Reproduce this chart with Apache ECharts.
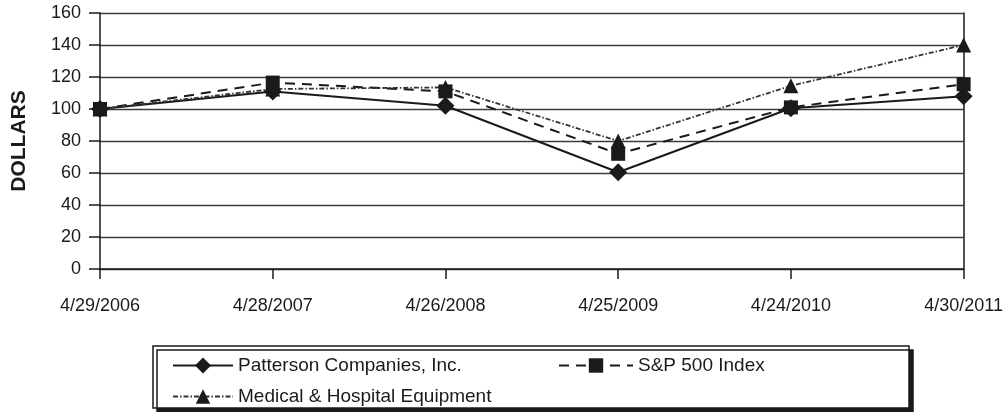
<!DOCTYPE html>
<html>
<head>
<meta charset="utf-8">
<script src="https://cdn.jsdelivr.net/npm/echarts@6/dist/echarts.min.js"></script>
<style>
html, body { margin: 0; padding: 0; background: #fff; }
#chart { width: 1006px; height: 412px; }
</style>
</head>
<body>
<div id="chart"></div>
<script>
var dates = ['4/29/2006', '4/28/2007', '4/26/2008', '4/25/2009', '4/24/2010', '4/30/2011'];
var patterson = [100, 111, 102, 60.5, 100.5, 108];
var sp500 = [100, 116.5, 111, 72, 101, 115.5];
var medical = [100, 112.5, 113.5, 80, 114.5, 140];

var font = '"Liberation Sans", Arial, sans-serif';
var ink = '#1a1a1a';

echarts.init(document.getElementById('chart')).setOption({
    animation: false,
    textStyle: { fontFamily: font, color: ink },
    grid: { left: 100, right: 41, top: 13, bottom: 143 },
    graphic: [{
        type: 'rect',
        z: 0,
        shape: { x: 153, y: 346, width: 756, height: 62 },
        style: {
            fill: '#fff', stroke: ink, lineWidth: 1.5,
            shadowColor: ink, shadowOffsetX: 4, shadowOffsetY: 4, shadowBlur: 0
        }
    }],
    legend: [{
        data: ['Patterson Companies, Inc.'],
        left: 167, top: 351,
        itemWidth: 60, itemHeight: 20,
        textStyle: { fontSize: 19, fontFamily: font, color: ink }
    }, {
        data: ['S&P 500 Index'],
        left: 553, top: 351,
        itemWidth: 74, itemHeight: 18,
        textStyle: { fontSize: 19, fontFamily: font, color: ink }
    }, {
        data: ['Medical & Hospital Equipment'],
        left: 167, top: 382,
        itemWidth: 60, itemHeight: 18,
        textStyle: { fontSize: 19, fontFamily: font, color: ink }
    }],
    xAxis: {
        type: 'category',
        data: dates,
        boundaryGap: false,
        axisLine: { lineStyle: { color: ink, width: 1.5 } },
        axisTick: { show: true, length: 10, lineStyle: { color: ink, width: 1.5 } },
        axisLabel: { fontSize: 18, color: ink, margin: 28, fontFamily: font }
    },
    yAxis: [{
        type: 'value',
        min: 0, max: 160, interval: 20,
        name: 'DOLLARS',
        nameLocation: 'middle',
        nameRotate: 90,
        nameGap: 70,
        nameTextStyle: { fontSize: 21, fontWeight: 'bold', color: ink, fontFamily: font },
        axisLine: { show: true, lineStyle: { color: ink, width: 1.5 } },
        axisTick: { show: true, length: 11, lineStyle: { color: ink, width: 1.5 } },
        axisLabel: { fontSize: 18, color: ink, margin: 19, fontFamily: font },
        splitLine: { lineStyle: { color: '#3c3c3c', width: 1.4 } }
    }, {
        type: 'value',
        position: 'right',
        min: 0, max: 160, interval: 20,
        axisLine: { show: true, lineStyle: { color: ink, width: 1.5 } },
        axisTick: { show: false },
        axisLabel: { show: false },
        splitLine: { show: false }
    }],
    series: [{
        name: 'Patterson Companies, Inc.',
        type: 'line',
        data: patterson,
        symbol: 'diamond',
        symbolSize: 18,
        itemStyle: { color: ink },
        lineStyle: { color: ink, width: 2, type: 'solid' }
    }, {
        name: 'S&P 500 Index',
        type: 'line',
        data: sp500,
        symbol: 'rect',
        symbolSize: 14,
        itemStyle: { color: ink },
        lineStyle: { color: ink, width: 2, type: [10, 7] }
    }, {
        name: 'Medical & Hospital Equipment',
        type: 'line',
        data: medical,
        symbol: 'triangle',
        symbolSize: 15,
        itemStyle: { color: ink },
        lineStyle: { color: '#333', width: 1.8, type: [5, 2, 1.5, 2] }
    }]
});
</script>
</body>
</html>
